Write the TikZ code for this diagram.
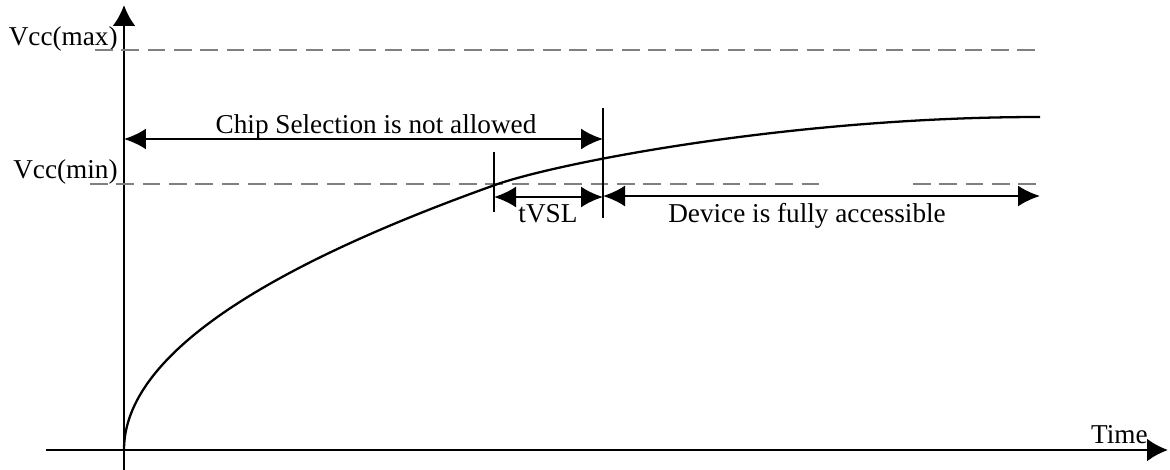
\documentclass[tikz,border=0pt]{standalone}
\usepackage{fontspec}
\setmainfont{Liberation Serif}
\usetikzlibrary{arrows.meta}
\tikzstyle{axis} = [line width=1.6pt, -{Latex[length=4.2mm, width=4.6mm]}]
\tikzstyle{level} = [gray, line width=0.7pt, dash pattern=on 10pt off 5pt]
\tikzstyle{bound} = [line width=0.9pt]
\tikzstyle{span} = [line width=1.3pt, {Latex[length=4.4mm, width=4.2mm]}-{Latex[length=4.4mm, width=4.2mm]}]
\tikzstyle{lbl} = [inner sep=0pt, font=\fontsize{15.5}{18}\selectfont]

\begin{document}
\begin{tikzpicture}[x=0.02cm, y=-0.02cm]
  \useasboundingbox (0,0) rectangle (1170,470);

  % axes
  \coordinate (ybot) at (124,470);
  \coordinate (ytop) at (124,5);
  \coordinate (xleft) at (46,450);
  \coordinate (xright) at (1168,450);
  \draw[axis] (ybot) -- (ytop);
  \draw[axis] (xleft) -- (xright);
  \node[lbl, anchor=base east] (time) at (1148,443) {Time};

  % supply levels
  \node[lbl, anchor=base east] (vmax) at (118,45) {Vcc(max)};
  \node[lbl, anchor=base east] (vmin) at (118,178) {Vcc(min)};
  \coordinate (max0) at (95,50);
  \coordinate (max1) at (1042,50);
  \coordinate (min0) at (90,184);
  \coordinate (min1) at (825,184);
  \coordinate (min2) at (913,184);
  \coordinate (min3) at (1037,184);
  \draw[level] (max0) -- (max1);
  \draw[level] (min0) -- (min1);
  \draw[level] (min2) -- (min3);

  % supply ramp
  \draw[line width=1.3pt] plot[domain=0:19.24, samples=80] ({124+\x*\x}, {450-13.76*\x})
    .. controls (554,163.5) and (790,117) .. (1040,117);

  % time marks
  \coordinate (t0top) at (494,152);
  \coordinate (t0bot) at (494,212);
  \coordinate (t1top) at (603,108);
  \coordinate (t1bot) at (603,218);
  \draw[bound] (t0top) -- (t0bot);
  \draw[bound] (t1top) -- (t1bot);

  % intervals
  \coordinate (cs0) at (124,139);
  \coordinate (cs1) at (603,139);
  \draw[span] (cs0) -- (cs1);
  \node[lbl, anchor=base] (chip) at (376,133) {Chip Selection is not allowed};

  \coordinate (vsl0) at (494,197);
  \coordinate (vsl1) at (603,197);
  \draw[span] (vsl0) -- (vsl1);
  \node[lbl, anchor=base] (tvsl) at (548,222) {tVSL};

  \coordinate (dev0) at (603,196);
  \coordinate (dev1) at (1040,196);
  \draw[span] (dev0) -- (dev1);
  \node[lbl, anchor=base] (device) at (807,222) {Device is fully accessible};
\end{tikzpicture}
\end{document}
